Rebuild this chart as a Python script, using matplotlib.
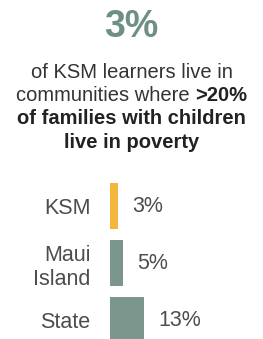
import matplotlib.pyplot as plt

# data
categories = ["KSM", "Maui\nIsland", "State"]
values = [3, 5, 13]
colors = ["#f3b73e", "#7b968d", "#7b968d"]
headline = "3%"

plt.rcParams["font.family"] = ["Liberation Sans", "DejaVu Sans"]

W, H = 263, 339
fig = plt.figure(figsize=(W / 100, H / 100), dpi=100)

def fy(px):
    return 1 - px / H

# headline + description
fig.text(0.5, fy(27), headline, ha="center", va="center", fontsize=27,
         fontweight="bold", color="#6e8f86")
fig.text(0.5, fy(72), "of KSM learners live in", ha="center", va="center",
         fontsize=14.5, color="#333333")

# mixed regular / bold line
renderer = fig.canvas.get_renderer()
t1 = fig.text(0, fy(95), "communities where ", ha="left", va="center",
              fontsize=14.5, color="#333333")
t2 = fig.text(0, fy(95), ">20%", ha="left", va="center",
              fontsize=14.5, fontweight="bold", color="#222222")
w1 = t1.get_window_extent(renderer).width
w2 = t2.get_window_extent(renderer).width
x0 = (W - w1 - w2) / 2
t1.set_x(x0 / W)
t2.set_x((x0 + w1) / W)

fig.text(0.5, fy(118), "of families with children", ha="center", va="center",
         fontsize=14.5, fontweight="bold", color="#222222")
fig.text(0.5, fy(142), "live in poverty", ha="center", va="center",
         fontsize=14.5, fontweight="bold", color="#222222")

# bars
ax = fig.add_axes([110 / W, 0, 140 / W, (H - 180) / H])
pos = list(range(len(categories)))
ax.barh(pos, values, height=0.8, color=colors)
ax.set_xlim(0, 53.5)
ax.set_ylim(2.33, -0.46)
ax.set_yticks(pos)
ax.set_yticklabels(categories, fontsize=15.5, color="#4d4d4d", linespacing=1.2)
ax.tick_params(axis="y", length=0, pad=14)
ax.set_xticks([])
for s in ax.spines.values():
    s.set_visible(False)
for p, v in zip(pos, values):
    ax.annotate(f"{v}%", (v, p), xytext=(10, 0), textcoords="offset points",
                ha="left", va="center", fontsize=15.5, color="#4d4d4d")

fig.savefig("out.png", dpi=100)
